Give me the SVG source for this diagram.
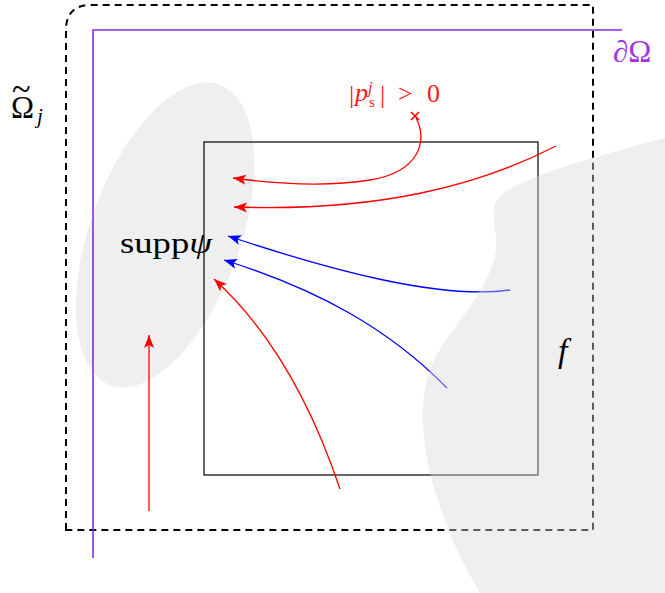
<svg xmlns="http://www.w3.org/2000/svg" width="665" height="593" viewBox="0 0 665 593">
<style>
.lbl{font-family:"Liberation Serif","DejaVu Serif",serif;}
.it{font-style:italic;}
.red{fill:#ff1a1a;}
.cr{fill:none;stroke:#ff0000;stroke-width:1.3;}
.cb{fill:none;stroke:#0000ff;stroke-width:1.3;}
</style>
<defs>
<marker id="ar" markerUnits="userSpaceOnUse" markerWidth="14" markerHeight="12" refX="13" refY="5" orient="auto"><path d="M0,0 L13,5 L0,10 L3,5 Z" fill="#ff0000"/></marker>
<marker id="ab" markerUnits="userSpaceOnUse" markerWidth="14" markerHeight="12" refX="13" refY="5" orient="auto"><path d="M0,0 L13,5 L0,10 L3,5 Z" fill="#0000ff"/></marker>
</defs>
<rect width="665" height="593" fill="#ffffff"/>
<g id="supp-psi-region">
<ellipse cx="165" cy="235" rx="75" ry="160" transform="rotate(20 165 235)" fill="#efefef"/>
</g>
<g id="omega-tilde-j">
<path d="M66,530 L66,30 Q66,5 91,5 L593,5 L593,530 Z" fill="none" stroke="#000" stroke-width="2" stroke-dasharray="7,5"/>
<text class="lbl" x="11" y="118" font-size="31">Ω</text>
<text class="lbl" x="12" y="101" font-size="38" transform="translate(12 0) scale(0.9 1) translate(-12 0)">~</text>
<text class="lbl it" x="37" y="123" font-size="21">j</text>
</g>
<g id="boundary-omega">
<path d="M93,558 L93,30 L622,30" fill="none" stroke="#8a2be2" stroke-width="1.6"/>
<text class="lbl" x="613" y="62" font-size="31" fill="#a035e6"><tspan class="it">∂</tspan>Ω</text>
</g>
<g id="f-box">
<rect x="204" y="142" width="334" height="333" fill="none" stroke="#000" stroke-width="1.2"/>
</g>
<g id="supp-label">
<text class="lbl" x="120" y="253" font-size="30" textLength="92" lengthAdjust="spacingAndGlyphs">supp<tspan class="it">ψ</tspan></text>
</g>
<g id="ps-label">
<text class="lbl red" x="349" y="103" font-size="26">|</text>
<text class="lbl red it" x="355" y="101" font-size="26">p</text>
<text class="lbl red it" x="368" y="93" font-size="16">j</text>
<text class="lbl red" x="369" y="107" font-size="15">s</text>
<text class="lbl red" x="380" y="103" font-size="26">|</text>
<text class="lbl red" x="398" y="102" font-size="26">&gt;</text>
<text class="lbl red" x="427" y="102" font-size="26">0</text>
<path d="M411,112 L419,120 M419,112 L411,120" stroke="#ff0000" stroke-width="1.6"/>
</g>
<g id="connectors">
<path class="cr" d="M416,118 C428,140 420,172 370,180 C320,188 270,183 233,178" marker-end="url(#ar)"/>
<path class="cr" d="M556,146 C480,185 380,212 234,207" marker-end="url(#ar)"/>
<path class="cb" d="M510,290 C440,300 330,270 228,236" marker-end="url(#ab)"/>
<path class="cb" d="M447,388 C390,330 320,290 224,260" marker-end="url(#ab)"/>
<path class="cr" d="M340,489 C310,400 270,330 214,279" marker-end="url(#ar)"/>
<path class="cr" d="M149,511 L149,335" marker-end="url(#ar)"/>
</g>
<g id="f-region">
<path d="M665,138 C600,155 510,180 497,200 C488,215 500,235 495,255 C485,300 445,330 430,370 C415,410 425,470 445,520 C455,550 470,575 480,593 L665,593 Z" fill="#d9d9d9" fill-opacity="0.42"/>
<text class="lbl it" x="558" y="362" font-size="34">f</text>
</g>
</svg>
